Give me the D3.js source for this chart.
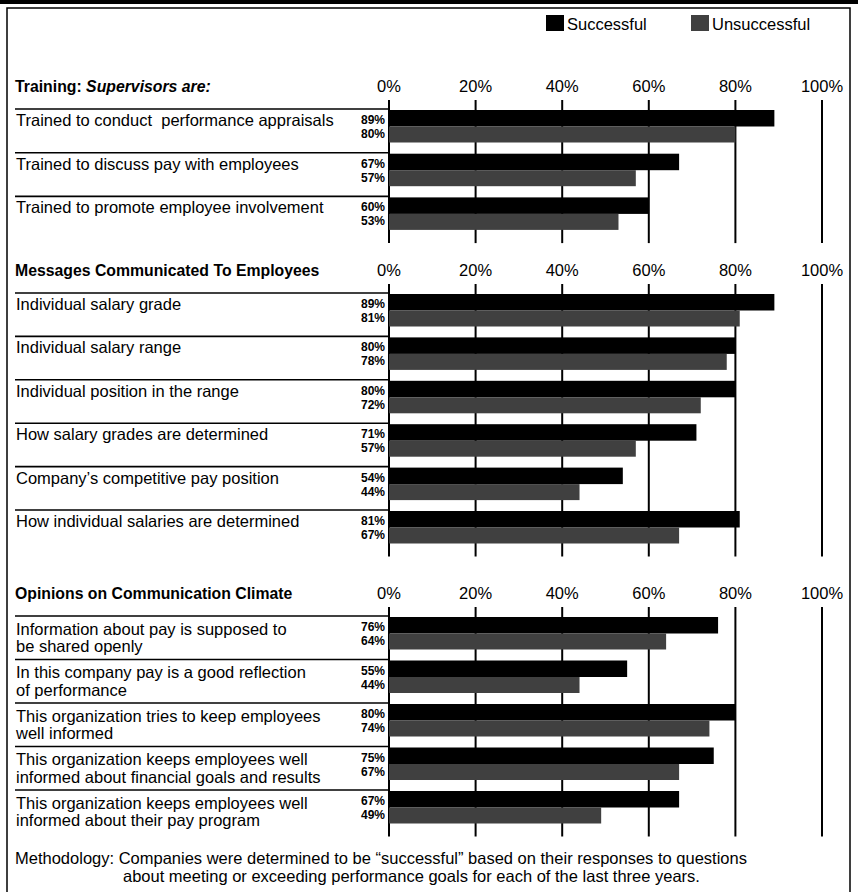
<!DOCTYPE html>
<html><head><meta charset="utf-8">
<script src="https://cdn.jsdelivr.net/npm/d3@7"></script>
<style>body{margin:0;background:#fff} text{white-space:pre}</style>
</head><body>
<svg id="c" width="858" height="892"></svg>
<script>
// ---------- DATA ----------
const tickValues = [0, 20, 40, 60, 80, 100];
const legendLabels = ["Successful", "Unsuccessful"];

const trainingTitle = ["Training: ", "Supervisors are:"];
const trainingLabels = [
  ["Trained to conduct  performance appraisals"],
  ["Trained to discuss pay with employees"],
  ["Trained to promote employee involvement"]
];
const trainingSuccessful = [89, 67, 60];
const trainingUnsuccessful = [80, 57, 53];

const messagesTitle = ["Messages Communicated To Employees"];
const messagesLabels = [
  ["Individual salary grade"],
  ["Individual salary range"],
  ["Individual position in the range"],
  ["How salary grades are determined"],
  ["Company\u2019s competitive pay position"],
  ["How individual salaries are determined"]
];
const messagesSuccessful = [89, 80, 80, 71, 54, 81];
const messagesUnsuccessful = [81, 78, 72, 57, 44, 67];

const opinionsTitle = ["Opinions on Communication Climate"];
const opinionsLabels = [
  ["Information about pay is supposed to", "be shared openly"],
  ["In this company pay is a good reflection", "of performance"],
  ["This organization tries to keep employees", "well informed"],
  ["This organization keeps employees well", "informed about financial goals and results"],
  ["This organization keeps employees well", "informed about their pay program"]
];
const opinionsSuccessful = [76, 55, 80, 75, 67];
const opinionsUnsuccessful = [64, 44, 74, 67, 49];

const methodologyLines = [
  "Methodology: Companies were determined to be \u201csuccessful\u201d based on their responses to questions",
  "about meeting or exceeding performance goals for each of the last three years."
];

// ---------- DRAW ----------
const FONT = "'Liberation Sans',Arial,sans-serif";
const colSucc = "#000";
const colUnsucc = "#404040";
const svg = d3.select("#c");
const x = d3.scaleLinear().domain([0, 100]).range([389, 822]);

// frame
svg.append("rect").attr("x", 0).attr("y", 0).attr("width", 858).attr("height", 4).attr("fill", "#000");
svg.append("path").attr("d", "M7,892V8H850V892").attr("fill", "none").attr("stroke", "#000").attr("stroke-width", 1.5);

// legend
const legendPos = [546, 691];
legendLabels.forEach((lab, i) => {
  svg.append("rect").attr("x", legendPos[i]).attr("y", 15).attr("width", 18).attr("height", 16)
    .attr("fill", i === 0 ? colSucc : colUnsucc);
  svg.append("text").attr("x", legendPos[i] + 21).attr("y", 30).text(lab)
    .attr("font-family", FONT).attr("font-size", 16.5).attr("fill", "#000");
});

const sections = [
  { title: trainingTitle, labels: trainingLabels, s: trainingSuccessful, u: trainingUnsuccessful, top: 109, pitch: 43.7 },
  { title: messagesTitle, labels: messagesLabels, s: messagesSuccessful, u: messagesUnsuccessful, top: 293, pitch: 43.4 },
  { title: opinionsTitle, labels: opinionsLabels, s: opinionsSuccessful, u: opinionsUnsuccessful, top: 616, pitch: 43.5 }
];

sections.forEach(sec => {
  const g = svg.append("g");
  const n = sec.labels.length;
  const axisTop = sec.top - 9, axisBottom = sec.top + n * sec.pitch + 3;

  // title
  const t = g.append("text").attr("x", 15).attr("y", sec.top - 17)
    .attr("font-family", FONT).attr("font-size", 15.8).attr("font-weight", "bold");
  sec.title.forEach((p, i) => t.append("tspan").text(p).attr("font-style", i === 1 ? "italic" : "normal"));

  // tick labels
  g.selectAll(".tl").data(tickValues).enter().append("text")
    .attr("x", d => x(d)).attr("y", sec.top - 17).attr("text-anchor", "middle")
    .attr("font-family", FONT).attr("font-size", 16.5)
    .text(d => d + "%");

  // gridlines
  g.selectAll(".gl").data(tickValues).enter().append("line")
    .attr("x1", d => x(d)).attr("x2", d => x(d)).attr("y1", axisTop).attr("y2", axisBottom)
    .attr("stroke", "#000").attr("stroke-width", 2);

  const rowY = i => sec.top + i * sec.pitch;
  sec.labels.forEach((lines, i) => {
    const y0 = rowY(i);
    g.append("line").attr("x1", 15).attr("x2", x(0)).attr("y1", y0).attr("y2", y0)
      .attr("stroke", "#000").attr("stroke-width", 1.6);
    lines.forEach((ln, k) => {
      g.append("text").attr("x", 16).attr("y", y0 + (lines.length > 1 ? 18.5 : 17) + k * 17.5).text(ln)
        .attr("font-family", FONT).attr("font-size", 16.5);
    });
    // bars
    g.append("rect").attr("x", x(0)).attr("y", y0 + 1).attr("height", 16.5)
      .attr("width", x(sec.s[i]) - x(0)).attr("fill", colSucc);
    g.append("rect").attr("x", x(0)).attr("y", y0 + 17.5).attr("height", 16)
      .attr("width", x(sec.u[i]) - x(0)).attr("fill", colUnsucc);
    // value labels
    [sec.s[i], sec.u[i]].forEach((v, k) => {
      g.append("text").attr("x", 385).attr("y", y0 + 15 + k * 14).attr("text-anchor", "end")
        .attr("font-family", FONT).attr("font-size", 12).attr("font-weight", 600).text(v + "%");
    });
  });
});

// methodology
methodologyLines.forEach((ln, k) => {
  svg.append("text").attr("x", k === 0 ? 15 : 123).attr("y", 864 + k * 18).text(ln)
    .attr("font-family", FONT).attr("font-size", 16.5);
});
</script>
</body></html>
